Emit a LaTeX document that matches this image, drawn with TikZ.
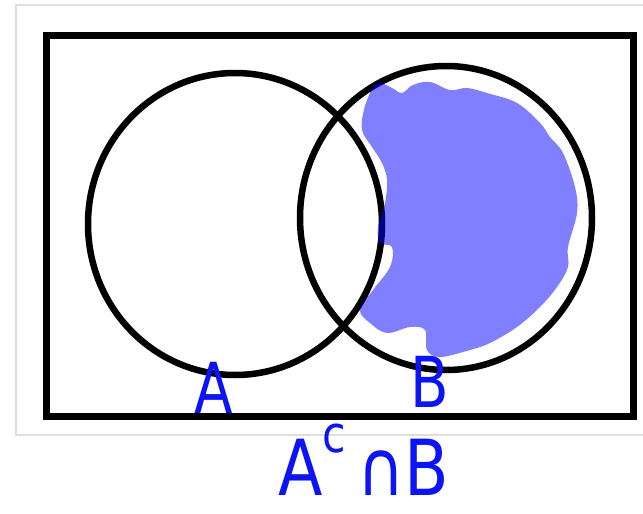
\documentclass[tikz,border=0pt]{standalone}
\usepackage{fontspec}
\usepackage{xcolor}
\setmainfont{DejaVu Sans}
\usetikzlibrary{positioning}
\definecolor{ink}{RGB}{12,20,245}
\definecolor{panelgray}{RGB}{222,222,222}
\tikzset{
  panel/.style={draw=panelgray, line width=0.03cm},
  universe/.style={draw, line width=0.14cm},
  setring/.style={draw, line width=0.13cm},
  shade/.style={fill=blue, fill opacity=0.5},
  hand/.style={text=ink, inner sep=0pt, font=\fontsize{40}{40}\selectfont},
  bighand/.style={text=ink, inner sep=0pt, text depth=0pt,
                  font=\fontsize{44}{44}\selectfont}
}

\begin{document}
\begin{tikzpicture}[x=0.02cm, y=-0.02cm]
  \useasboundingbox (0,0) rectangle (643,514);

  % screenshot panel
  \draw[panel] (643,5) -| (16,435) -- (643,435);

  % universe and the two sets
  \draw[universe] (46.5,35) rectangle (633.5,416.5);
  \coordinate (cA) at (235,224);
  \coordinate (cB) at (446,218);
  \draw[setring] (cA) ellipse [x radius=147, y radius=151];
  \draw[setring] (cB) ellipse [x radius=146, y radius=152];

  % shaded region, scribbled by hand
  \fill[shade] plot[smooth cycle, tension=0.6] coordinates {
    (377,83) (392,88) (402,93) (413,85) (430,82) (450,90) (467,88)
    (487,93) (517,103) (540,123) (550,137) (563,153) (575,187)
    (577,213) (568,247) (568,267) (557,287) (540,307) (517,327)
    (490,343) (470,350) (440,357) (427,350) (425,330) (410,327)
    (387,333) (370,323) (360,310) (373,290) (390,267) (392,247)
    (380,243) (378,227) (385,203) (387,180) (382,163) (372,147)
    (363,133) (362,120) (367,100)};

  % labels
  \node[hand] (labA) at (214,388) {\scalebox{0.8}[1]{A}};
  \node[hand] (labB) at (430,382) {\scalebox{0.8}[1]{B}};
  \node[bighand, anchor=base] (expr) at (364,495)
    {\scalebox{0.84}[1]{A\raisebox{0.55em}{\fontsize{29}{29}\selectfont c}\,∩B}};
\end{tikzpicture}
\end{document}
